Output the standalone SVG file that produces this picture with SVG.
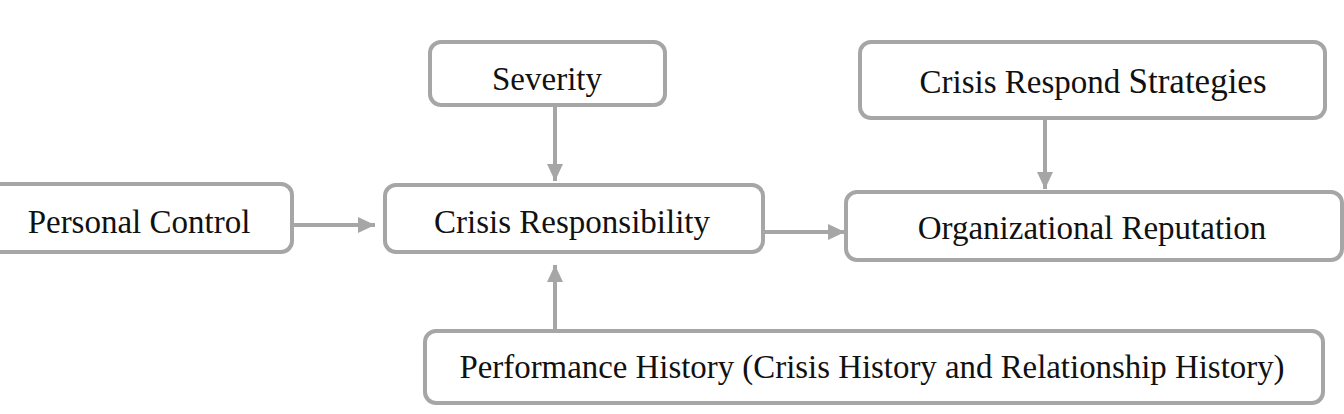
<svg xmlns="http://www.w3.org/2000/svg" width="1344" height="414" viewBox="0 0 1344 414">
  <style>
    .box { fill: #ffffff; stroke: #a6a6a6; stroke-width: 4; }
    .lbl { font-family: "Liberation Serif", "Times New Roman", serif; font-size: 33px; fill: #111111; text-anchor: middle; }
    .conn { stroke: #a6a6a6; stroke-width: 4; fill: none; }
  </style>
  <defs>
    <marker id="arrow" markerUnits="userSpaceOnUse" markerWidth="18" markerHeight="18" refX="17" refY="9" orient="auto">
      <path d="M0,1 L17,9 L0,17 z" fill="#a6a6a6"/>
    </marker>
  </defs>
  <rect width="1344" height="414" fill="#ffffff"/>

  <g id="connectors">
    <line class="conn" x1="292" y1="225" x2="375" y2="225" marker-end="url(#arrow)"/>
    <line class="conn" x1="555" y1="105" x2="555" y2="181" marker-end="url(#arrow)"/>
    <line class="conn" x1="763" y1="232" x2="845" y2="232" marker-end="url(#arrow)"/>
    <line class="conn" x1="1045" y1="118" x2="1045" y2="189" marker-end="url(#arrow)"/>
    <line class="conn" x1="555" y1="331" x2="555" y2="265" marker-end="url(#arrow)"/>
  </g>

  <g id="personal-control">
    <rect class="box" x="-10" y="184" width="302" height="68" rx="11"/>
    <text class="lbl" x="139" y="233">Personal Control</text>
  </g>

  <g id="severity">
    <rect class="box" x="430" y="42" width="235" height="63" rx="11"/>
    <text class="lbl" x="547" y="90">Severity</text>
  </g>

  <g id="crisis-responsibility">
    <rect class="box" x="385" y="185" width="378" height="67" rx="11"/>
    <text class="lbl" x="572" y="233">Crisis Responsibility</text>
  </g>

  <g id="crisis-respond-strategies">
    <rect class="box" x="860" y="42" width="465" height="76" rx="11"/>
    <text class="lbl" x="1093" y="93">Crisis Respond <tspan font-size="35">Strategies</tspan></text>
  </g>

  <g id="organizational-reputation">
    <rect class="box" x="846" y="192" width="496" height="68" rx="11"/>
    <text class="lbl" x="1092" y="239">Organizational Reputation</text>
  </g>

  <g id="performance-history">
    <rect class="box" x="425" y="331" width="898" height="72" rx="11"/>
    <text class="lbl" x="872" y="378" textLength="825" lengthAdjust="spacingAndGlyphs">Performance History (Crisis History and Relationship History)</text>
  </g>
</svg>
